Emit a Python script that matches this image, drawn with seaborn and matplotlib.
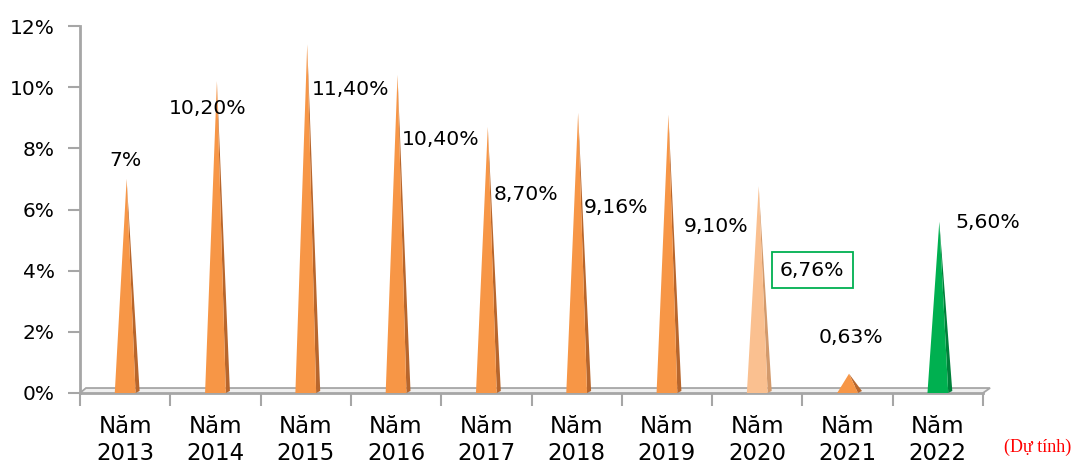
import matplotlib
matplotlib.use("Agg")
import matplotlib.pyplot as plt
import numpy as np
import pandas as pd
import seaborn as sns
from matplotlib.patches import Polygon

# Data: GDP growth by year
years = ["Năm\n2013", "Năm\n2014", "Năm\n2015", "Năm\n2016", "Năm\n2017",
         "Năm\n2018", "Năm\n2019", "Năm\n2020", "Năm\n2021", "Năm\n2022"]
growth = [7.0, 10.2, 11.4, 10.4, 8.7, 9.16, 9.10, 6.76, 0.63, 5.60]
value_labels = ["7%", "10,20%", "11,40%", "10,40%", "8,70%",
                "9,16%", "9,10%", "6,76%", "0,63%", "5,60%"]
y_ticks = [0, 2, 4, 6, 8, 10, 12]
y_tick_labels = ["0%", "2%", "4%", "6%", "8%", "10%", "12%"]
note_text = "(Dự tính)"

# Styling
front_colors = ["#F79646"] * 7 + ["#FAC090", "#F79646", "#00B050"]
side_colors = ["#B8662C"] * 7 + ["#D39A6C", "#B8662C", "#00803A"]
# label offsets (category units, percentage points) relative to each spike
label_dx = [0.0, -0.09, 0.50, 0.49, 0.44, 0.44, 0.54, 0.61, 0.04, 0.55]
label_dy = [0.61, -0.89, -1.47, -2.10, -2.20, -3.08, -3.64, -2.74, 1.17, -0.01]
axis_gray = "#A6A6A6"

sns.set_theme(style="white")
plt.rcParams["font.family"] = ["DejaVu Sans"]

fig = plt.figure(figsize=(10.75, 4.68), dpi=100)
ax = fig.add_axes([80 / 1075, 75 / 468, 903 / 1075, 367 / 468])

df = pd.DataFrame({"year": years, "growth": growth})
sns.barplot(data=df, x="year", y="growth", width=0.23, errorbar=None,
            color="#F79646", ax=ax, zorder=3)

# turn each bar into a 3D-looking spike (front face + shaded side face)
depth_x, depth_y = 0.045, 0.065
for i, p in enumerate(list(ax.patches)):
    x0, w, h = p.get_x(), p.get_width(), p.get_height()
    p.set_visible(False)
    tip = x0 + w * 0.57
    ax.add_patch(Polygon([(x0 + w, 0), (x0 + w + depth_x, depth_y), (tip, h)],
                         closed=True, facecolor=side_colors[i],
                         edgecolor="none", zorder=3))
    ax.add_patch(Polygon([(x0, 0), (x0 + w, 0), (tip, h)], closed=True,
                         facecolor=front_colors[i], edgecolor="none", zorder=4))

# floor of the chart
ax.add_patch(Polygon([(-0.5, 0), (-0.5 + 0.066, 0.163), (9.5 + 0.078, 0.163),
                      (9.5, 0)], closed=True, facecolor="#EFEFEF",
                     edgecolor=axis_gray, lw=1.3, zorder=2, clip_on=False))

ax.set_xlim(-0.5, 9.5)
ax.set_ylim(0, 12)
ax.set_xlabel("")
ax.set_ylabel("")

for side in ["top", "right"]:
    ax.spines[side].set_visible(False)
for side in ["left", "bottom"]:
    ax.spines[side].set_color(axis_gray)
    ax.spines[side].set_linewidth(2)
    ax.spines[side].set_zorder(1)

ax.set_yticks(y_ticks)
ax.set_yticklabels(y_tick_labels, fontsize=14.5, color="black")
ax.tick_params(axis="y", direction="out", length=9, width=1.5,
               color=axis_gray, pad=9, left=True)

ax.set_xticks(range(len(years)))
ax.set_xticklabels(years, fontsize=16.5, color="black", linespacing=1.2)
ax.tick_params(axis="x", which="major", length=0, pad=16)
ax.set_xticks(np.arange(-0.5, len(years), 1), minor=True)
ax.tick_params(axis="x", which="minor", direction="out", length=9, width=1.5,
               color=axis_gray, bottom=True)

for i, (v, lab) in enumerate(zip(growth, value_labels)):
    kw = {}
    if i == 7:
        kw["bbox"] = dict(boxstyle="square,pad=0.42", facecolor="white",
                          edgecolor="#00B050", lw=1.3)
    ax.text(i + label_dx[i], v + label_dy[i], lab, ha="center", va="center",
            fontsize=14.7, color="black", zorder=6, **kw)

fig.text(1038 / 1075, 1 - 447 / 468, note_text, ha="center", va="center",
         fontsize=13, color="#FF0000", family="Liberation Serif")

fig.savefig("out.png", dpi=100)
